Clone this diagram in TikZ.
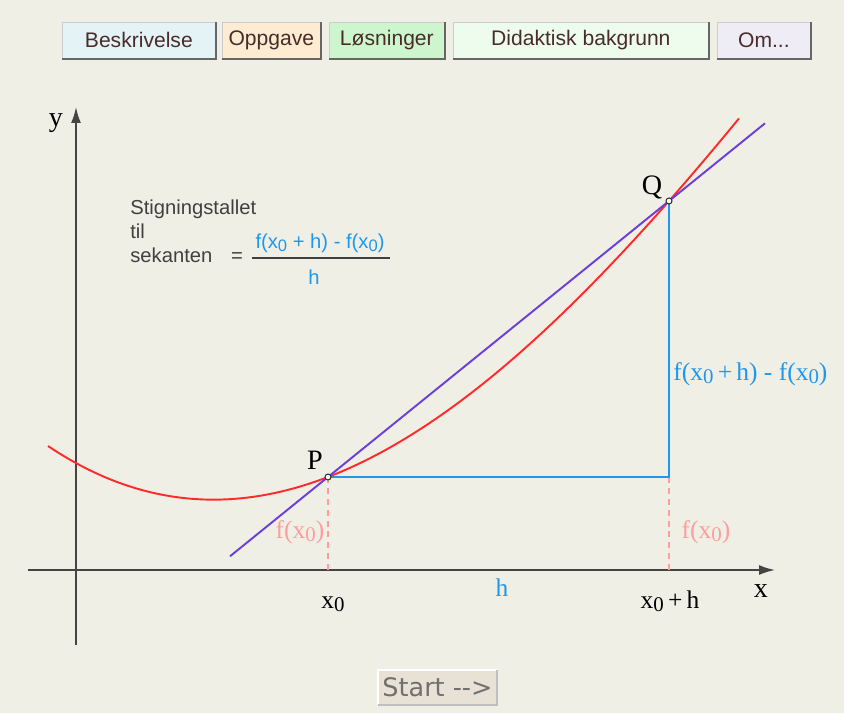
\documentclass[tikz,border=0pt]{standalone}
\usepackage{fontspec}
\setmainfont{Liberation Serif}
\setsansfont{Liberation Sans}
\newfontfamily\startfont{DejaVu Sans}
\usepackage{graphicx}
\usetikzlibrary{arrows.meta}

\definecolor{bgcol}{HTML}{F0EFE5}
\definecolor{btnA}{HTML}{E4F4F6}
\definecolor{btnB}{HTML}{FDEBD2}
\definecolor{btnC}{HTML}{CEF6CE}
\definecolor{btnD}{HTML}{EEFCEE}
\definecolor{btnE}{HTML}{EEECF4}
\definecolor{btntext}{HTML}{4A2C2A}
\definecolor{startfill}{HTML}{E8E1D6}
\definecolor{curvered}{HTML}{FF2A2A}
\definecolor{secpurple}{HTML}{6A3FDC}
\definecolor{hblue}{HTML}{1E98EE}
\definecolor{dashpink}{HTML}{FF9C9C}
\definecolor{axisgray}{HTML}{444444}
\definecolor{textgray}{HTML}{404040}

% x with a small lowered zero
\newcommand{\xnull}{x\raisebox{-0.3ex}{\scalebox{0.82}{0}}}
\newcommand{\omtxt}{Om...}

\tikzset{
  button/.style={draw=gray!40, line width=0.4pt, inner sep=0pt, anchor=north west,
    minimum height=0.72cm, text=btntext, font=\sffamily\fontsize{12}{14}\selectfont},
  btnshade/.style={draw=black!60, line width=1.1pt},
  axis/.style={draw=axisgray, line width=1pt, -{Latex[length=0.32cm, width=0.2cm]}},
  curve/.style={draw=curvered, line width=1.1pt},
  secant/.style={draw=secpurple, line width=1.1pt},
  hline/.style={draw=hblue, line width=1.1pt},
  drop/.style={draw=dashpink, line width=0.6pt, dash pattern=on 3.4pt off 2.8pt},
  dot/.style={circle, draw=black!80, fill=white, line width=0.6pt, inner sep=0pt, minimum size=0.12cm},
  lbl/.style={font=\fontsize{14.5}{17}\selectfont, inner sep=0pt},
  biglbl/.style={font=\fontsize{16}{19}\selectfont, inner sep=0pt},
  sanstext/.style={font=\sffamily\fontsize{11.5}{14}\selectfont, text=textgray, inner sep=0pt},
}

\begin{document}
\begin{tikzpicture}[x=0.02cm, y=-0.02cm]
    \fill[bgcol] (0,0) rectangle (844,713);
    \useasboundingbox (0,0) rectangle (844,713);

    % buttons on top
    \foreach \nm/\xl/\xr/\col/\txt in {b1/62/215/btnA/Beskrivelse, b2/222/320/btnB/Oppgave,
        b3/329/444/btnC/Løsninger, b4/453/708/btnD/Didaktisk bakgrunn, b5/717/810/btnE/\omtxt}
    {
    \node[button, fill=\col, minimum width=(\xr-\xl)*0.02cm] (\nm) at (\xl,22) {\txt};
    \draw[btnshade] (\nm.south west) -- (\nm.south east) -- (\nm.north east);
    }

    % axes
    \coordinate (xa) at (28,570);
    \coordinate (xb) at (775,570);
    \coordinate (ya) at (76,645);
    \coordinate (yb) at (76,107);
    \draw[axis] (xa) -- (xb);
    \draw[axis] (ya) -- (yb);
    \path (761,597) node[biglbl, anchor=base] (xlab) {x};
    \path (56,126) node[biglbl, anchor=base] (ylab) {y};

    % points on the curve and their feet
    \coordinate (R) at (669,477);
    \coordinate (x0) at (328,570);
    \coordinate (x0h) at (669,570);
    \coordinate (s1) at (230,556.3);
    \coordinate (s2) at (765,123.3);

    \draw[drop] (328,477) -- (x0);
    \draw[drop] (R) -- (x0h);
    \draw[hline] (328,477) -- (R) -- (669,201);

    \draw[curve] plot[domain=-2.8:4.11, samples=90, smooth]
        ({328+100*\x},{477-38.43*\x-15.328*\x*\x+0.8393*\x*\x*\x});
    \draw[secant] (s1) -- (s2);

    \node[dot] (P) at (328,477) {};
    \node[dot] (Q) at (669,201) {};
    \path (315,469) node[biglbl, anchor=base] (Plab) {P};
    \path (652,194) node[biglbl, anchor=base] (Qlab) {Q};

    % labels along the axis
    \path (300,538) node[lbl, anchor=base, text=dashpink] (fx0a) {f(\xnull)};
    \path (706,538) node[lbl, anchor=base, text=dashpink] (fx0b) {f(\xnull)};
    \path (333,608) node[lbl, anchor=base] (x0lab) {\xnull};
    \path (670,608) node[lbl, anchor=base] (x0hlab) {\xnull\,+\,h};
    \path (502,596) node[lbl, anchor=base, text=hblue] (hlab) {h};
    \path (673,380) node[lbl, anchor=base west, text=hblue] (difflab) {f(\xnull\,+\,h) - f(\xnull)};

    % the slope text
    \path (130,214) node[sanstext, anchor=base west] (t1) {Stigningstallet};
    \path (130,238) node[sanstext, anchor=base west] (t2) {til};
    \path (130,262) node[sanstext, anchor=base west] (t3) {sekanten};
    \path (237,262) node[sanstext, anchor=base] (eq) {=};
    \path (320,248) node[sanstext, anchor=base, text=hblue] (num) {f(\xnull{} + h) - f(\xnull)};
    \draw[textgray, line width=0.6pt] (252,258) -- (390,258);
    \path (314,284) node[sanstext, anchor=base, text=hblue] (den) {h};

    % start button
    \node[fill=startfill, minimum width=2.38cm, minimum height=0.7cm, inner sep=0pt,
        text=black!56, font=\startfont\fontsize{14.5}{17}\selectfont] (start) at (437.5,687.5) {Start -{}->};
    \draw[white, line width=1pt] (start.south west) -- (start.north west) -- (start.north east);
    \draw[black!25, line width=1pt] (start.south west) -- (start.south east) -- (start.north east);
\end{tikzpicture}
\end{document}
